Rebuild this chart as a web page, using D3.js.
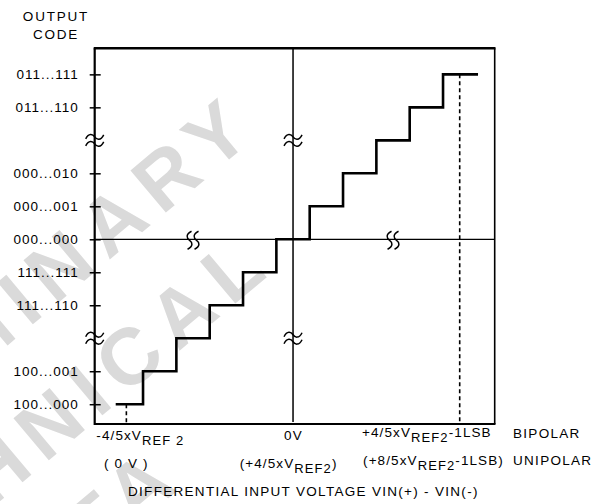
<!DOCTYPE html>
<html>
<head>
<meta charset="utf-8">
<script src="https://cdn.jsdelivr.net/npm/d3@7/dist/d3.min.js"></script>
<style>
  html, body { margin: 0; padding: 0; background: #fff; }
  svg { display: block; }
  text { font-family: "Liberation Sans", Arial, sans-serif; fill: #000; }
</style>
</head>
<body>
<svg id="chart" width="597" height="504"></svg>
<script>
// ---------- data ----------
// output codes (in LSB units) shown on the vertical axis and their labels
const codeValues = [-5, -4, -2, -1, 0, 1, 2, 4, 5];
const codeLabels = ["100...000", "100...001", "111...110", "111...111", "000...000",
                    "000...001", "000...010", "011...110", "011...111"];
// transfer staircase: code held between consecutive edges (input in LSB units)
const stepCodes = [-5, -4, -3, -2, -1, 0, 1, 2, 3, 4, 5];
const stepEdges = [-5.32, -4.5, -3.5, -2.5, -1.5, -0.5, 0.5, 1.5, 2.5, 3.5, 4.5, 5.55];
// full-scale markers (dashed) and axis breaks
const fullScale = [-5, 5];
const yBreaks = [-3, 3];
const xBreaks = [-3, 3];
// x-axis texts
const bipolarLabels = [
  {main: "-4/5xV", sub: "REF 2", tail: ""},
  {main: "0V", sub: "", tail: ""},
  {main: "+4/5xV", sub: "REF2", tail: "-1LSB"}
];
const unipolarLabels = [
  {main: "( 0 V )", sub: "", tail: ""},
  {main: "(+4/5xV", sub: "REF2", tail: ")"},
  {main: "(+8/5xV", sub: "REF2", tail: "-1LSB)"}
];
const modeLabels = ["BIPOLAR", "UNIPOLAR"];
const yTitle = ["OUTPUT", "CODE"];
const xTitle = "DIFFERENTIAL INPUT VOLTAGE VIN(+) - VIN(-)";
const watermark = ["PRELIMINARY", "TECHNICAL", "DATA"];

// ---------- layout ----------
const svg = d3.select("#chart");
const x = d3.scaleLinear().domain([-5.95, 6.05]).range([94.7, 494.7]);
const y = d3.scaleLinear().domain([-5.6, 5.79]).range([424, 48.3]);
const [x0, x1] = x.range();
const [yb, yt] = y.range();

// watermark
const wm = svg.append("g").attr("class", "watermark");
const wmPos = [[263, 131], [278, 268], [188, 482]];
watermark.forEach((t, i) => {
  wm.append("text")
    .attr("transform", `translate(${wmPos[i][0]},${wmPos[i][1]}) rotate(-40)`)
    .attr("text-anchor", "end")
    .style("font-size", "80px")
    .style("font-weight", "bold")
    .style("letter-spacing", "12px")
    .style("fill", "#dadada")
    .text(t);
});

// center vertical line and zero horizontal line
svg.append("line")
  .attr("x1", x(0)).attr("x2", x(0)).attr("y1", yt).attr("y2", yb - 2)
  .attr("stroke", "#000").attr("stroke-width", 1.5);
svg.append("line")
  .attr("x1", x0).attr("x2", x1).attr("y1", y(0)).attr("y2", y(0))
  .attr("stroke", "#000").attr("stroke-width", 1.3);

// frame
const frame = svg.append("g").attr("stroke", "#000").attr("fill", "none");
frame.append("line").attr("x1", x1).attr("x2", x1).attr("y1", yt).attr("y2", yb).attr("stroke-width", 1.6);
frame.append("line").attr("x1", x0 - 1).attr("x2", x1 + 0.8).attr("y1", yt).attr("y2", yt).attr("stroke-width", 2.6);
frame.append("line").attr("x1", x0).attr("x2", x1 + 0.8).attr("y1", yb).attr("y2", yb).attr("stroke-width", 2.2);
frame.append("line").attr("x1", x0).attr("x2", x0).attr("y1", yt).attr("y2", yb + 1).attr("stroke-width", 2.2);

// left axis with ticks and code labels
const yAxis = d3.axisLeft(y)
  .tickValues(codeValues)
  .tickFormat((d, i) => codeLabels[i])
  .tickSize(5)
  .tickPadding(11);
const ga = svg.append("g").attr("transform", `translate(${x0},0)`).call(yAxis);
ga.select(".domain").remove();
ga.selectAll(".tick line").attr("x1", 6).attr("stroke", "#000").attr("stroke-width", 1.5);
ga.selectAll(".tick text")
  .style("font-family", "'Liberation Sans', Arial, sans-serif")
  .style("font-size", "13.5px").style("letter-spacing", "1px").attr("fill", "#000");

// dashed full-scale markers
svg.selectAll("line.fs").data(fullScale).join("line").attr("class", "fs")
  .attr("x1", d => x(d)).attr("x2", d => x(d))
  .attr("y1", d => y(d)).attr("y2", yb)
  .attr("stroke", "#000").attr("stroke-width", 1.6).attr("stroke-dasharray", "4,3");

// staircase
const pts = stepCodes.map((c, i) => [stepEdges[i], c]);
pts.push([stepEdges[stepEdges.length - 1], stepCodes[stepCodes.length - 1]]);
const line = d3.line().x(d => x(d[0])).y(d => y(d[1])).curve(d3.curveStepAfter);
svg.append("path").attr("d", line(pts))
  .attr("fill", "none").attr("stroke", "#000").attr("stroke-width", 2.6)
  .attr("stroke-linejoin", "miter");

// break marks on vertical lines (≈)
const tilde = "M-9,2 C-6,-4 -2,-3 0,0 S6,4 9,-2";
[x0, x(0)].forEach(xv => {
  yBreaks.forEach(b => {
    [-3.5, 3.5].forEach(o => {
      svg.append("path").attr("d", tilde)
        .attr("transform", `translate(${xv},${y(b) + o})`)
        .attr("fill", "none").attr("stroke", "#000").attr("stroke-width", 1.5);
    });
  });
});
// break marks on zero line
const vwave = "M2,-9 C-4,-6 -3,-2 0,0 S4,6 -2,9";
xBreaks.forEach(b => {
  [-3.5, 3.5].forEach(o => {
    svg.append("path").attr("d", vwave)
      .attr("transform", `translate(${x(b) + o},${y(0) + 1})`)
      .attr("fill", "none").attr("stroke", "#000").attr("stroke-width", 1.5);
  });
});

// axis titles
const txtStyle = sel => sel.style("font-size", "13.5px").style("letter-spacing", "1.1px");
svg.append("text").attr("x", 56).attr("y", 21).attr("text-anchor", "middle")
  .call(txtStyle).style("letter-spacing", "1.8px").text(yTitle[0]);
svg.append("text").attr("x", 56).attr("y", 39).attr("text-anchor", "middle")
  .call(txtStyle).style("letter-spacing", "1.8px").text(yTitle[1]);
svg.append("text").attr("x", 128).attr("y", 496)
  .call(txtStyle).style("letter-spacing", "1.3px").text(xTitle);

// x labels
function richLabel(lab, xs, ys) {
  const t = svg.append("text").attr("x", xs).attr("y", ys).call(txtStyle);
  t.append("tspan").text(lab.main);
  if (lab.sub) t.append("tspan").attr("dy", 5).style("font-size", "13px").text(lab.sub);
  if (lab.tail) t.append("tspan").attr("dy", lab.sub ? -5 : 0).text(lab.tail);
  return t;
}
const row1 = 440, row2 = 468;
const bipX = [x(-5.9), x(-0.27), x(2.07)];
const uniX = [x(-5.67), x(-1.6), x(2.1)];
bipolarLabels.forEach((l, i) => richLabel(l, bipX[i], i === 2 ? row1 - 3 : row1));
unipolarLabels.forEach((l, i) => richLabel(l, uniX[i], i === 2 ? row2 - 3 : row2));
svg.append("text").attr("x", 513).attr("y", row1 - 2).call(txtStyle).style("letter-spacing", "1.3px").text(modeLabels[0]);
svg.append("text").attr("x", 513).attr("y", row2 - 3).call(txtStyle).style("letter-spacing", "1.3px").text(modeLabels[1]);
</script>
</body>
</html>
